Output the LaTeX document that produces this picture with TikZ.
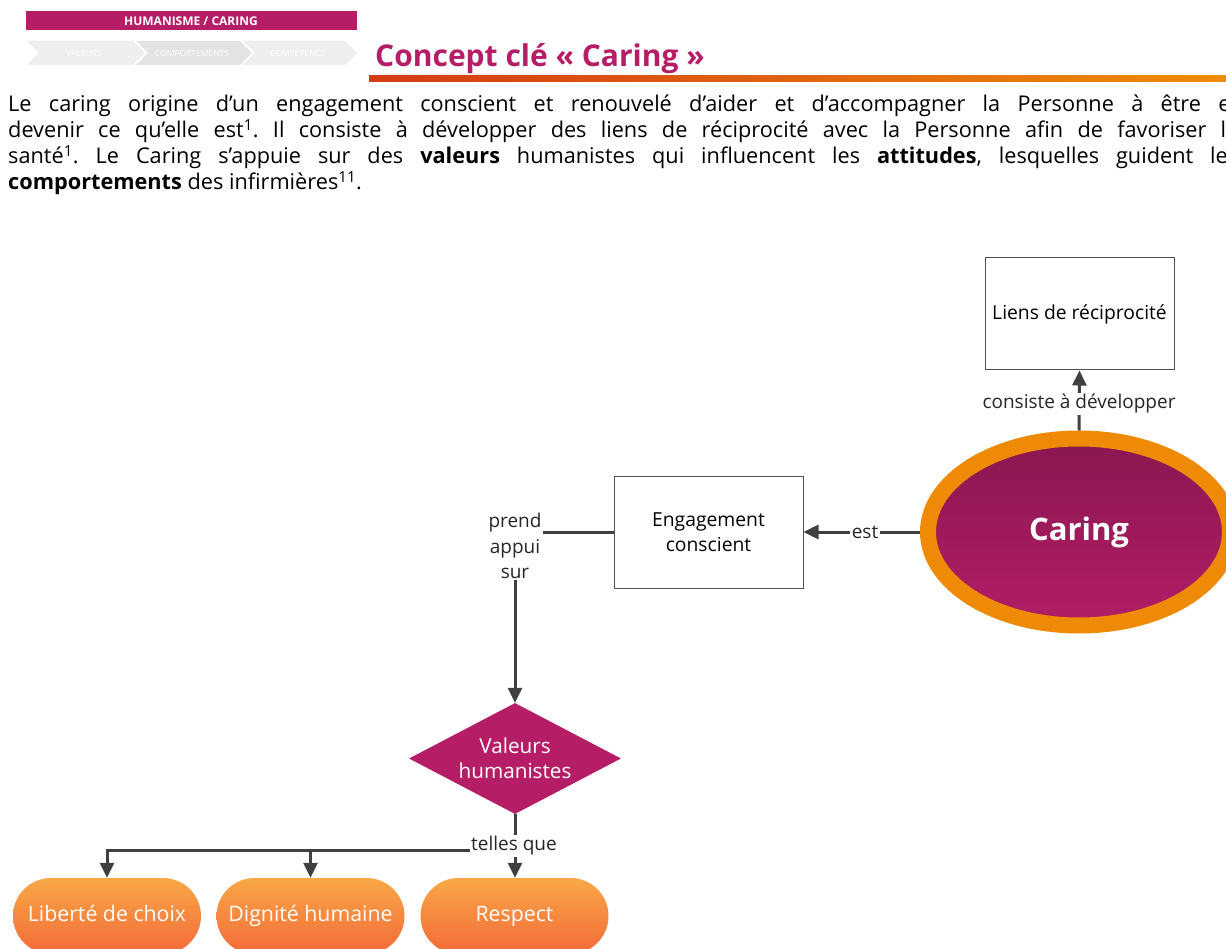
\documentclass[tikz,border=0pt]{standalone}
\usepackage{fontspec}
\setmainfont{Open Sans}
\usetikzlibrary{arrows.meta,shapes.geometric}
\definecolor{mag}{HTML}{B51E66}
\definecolor{magtop}{HTML}{8A1750}
\definecolor{magbot}{HTML}{B21D66}
\definecolor{ring}{HTML}{EE8A05}
\definecolor{pilltop}{HTML}{F9A847}
\definecolor{pillbot}{HTML}{F26A38}
\definecolor{conncol}{HTML}{404040}
\definecolor{barleft}{HTML}{D23C14}
\definecolor{barright}{HTML}{EE8C08}
\definecolor{chevA}{HTML}{EEEEEE}
\definecolor{chevB}{HTML}{E3E3E3}
\tikzset{
  conn/.style={draw=conncol, line width=3pt},
  tip/.style={-{Triangle[width=14pt,length=15pt]}},
  boxnode/.style={draw=conncol!90, line width=1pt, rectangle, minimum width=189pt, minimum height=112pt, align=center, font=\fontsize{19.3}{25}\selectfont},
  lab/.style={fill=white, inner sep=1.5pt, align=center, font=\fontsize{19}{25.5}\selectfont, text=black!85},
  pill/.style={rounded corners=38pt, minimum width=188pt, minimum height=76pt, text height=15.5pt, text depth=5pt, top color=pilltop, bottom color=pillbot, text=white, font=\fontsize{21.3}{24}\selectfont},
  chevtext/.style={text=white, font=\fontsize{8.5}{10}\selectfont}
}
\begin{document}
\begin{tikzpicture}[x=1pt,y=-1pt]
\useasboundingbox (0,0) rectangle (1226,949);
\clip (0,0) rectangle (1226,949);
\fill[white] (0,0) rectangle (1226,949);
% header band
\fill[mag] (26,11) rectangle (357,30);
\node[text=white, font=\fontsize{12}{13}\selectfont\bfseries] (hdr) at (191,21) {HUMANISME / CARING};
% chevrons
\fill[chevA] (27,41) -- (133,41) -- (145,53) -- (133,65) -- (27,65) -- (39,53) -- cycle;
\fill[chevB] (136,41) -- (240,41) -- (252,53) -- (240,65) -- (136,65) -- (148,53) -- cycle;
\fill[chevA] (243,41) -- (345,41) -- (357,53) -- (345,65) -- (243,65) -- (255,53) -- cycle;
\node[chevtext] (c1) at (84,53) {VALEURS};
\node[chevtext] (c2) at (192,53) {COMPORTEMENTS};
\node[chevtext] (c3) at (298,53) {COMPÉTENCE};
% title
\node[anchor=base west, inner sep=0, text=mag, font=\fontsize{30}{34}\selectfont\bfseries] (title) at (375,67) {Concept clé « Caring »};
\shade[left color=barleft, right color=barright] (369,75.5) rectangle (1226,81.5);
% paragraph
\node[anchor=base west, inner sep=0] (para) at (8,112) {\parbox[t]{1230pt}{\fontsize{21.7}{26}\selectfont\setlength{\parindent}{0pt}\frenchspacing
Le caring origine d’un engagement conscient et renouvelé d’aider et d’accompagner la Personne à être et\linebreak
devenir ce qu’elle est\textsuperscript{1}. Il consiste à développer des liens de réciprocité avec la Personne afin de favoriser la\linebreak
santé\textsuperscript{1}. Le Caring s’appuie sur des \textbf{valeurs} humanistes qui influencent les \textbf{attitudes}, lesquelles guident les\linebreak
\textbf{comportements} des infirmières\textsuperscript{11}.}};
% nodes
\node[boxnode] (liens) at (1079.5,314) {Liens de réciprocité};
\node[boxnode] (eng) at (708.5,532) {Engagement\\conscient};
\node[ellipse, draw=ring, line width=16pt, minimum width=302pt, minimum height=187pt, inner sep=0, top color=magtop, bottom color=magbot, text=white, font=\fontsize{31}{34}\selectfont\bfseries] (caring) at (1079,532) {Caring};
\node[diamond, fill=mag, minimum width=212pt, minimum height=111pt, inner sep=0, aspect=1.9, text=white, align=center, font=\fontsize{20.7}{25}\selectfont] (val) at (515,758.5) {Valeurs\\humanistes};
\node[pill] (lib) at (107,916) {Liberté de choix};
\node[pill] (dig) at (310.5,916) {Dignité humaine};
\node[pill] (resp) at (514.5,916) {Respect};
\coordinate (split) at (515,850);
% connectors
\draw[conn,tip] (caring.north) -- (liens.south);
\draw[conn,tip] (caring.west) -- (eng.east);
\draw[conn,tip] (eng.west) -| (val.north);
\draw[conn] (val.south) -- (split);
\draw[conn,tip] (split) -- (split |- resp.north);
\draw[conn,tip] (split) -| (lib.north);
\draw[conn,tip] (split) -| (dig.north);
% labels
\node[lab] (l1) at (1079,404) {consiste à développer};
\node[lab] (l2) at (865,532) {est};
\node[lab] (l3) at (515,546) {prend\\appui\\sur};
\node[lab] (l4) at (514,846) {telles que};
\end{tikzpicture}
\end{document}
